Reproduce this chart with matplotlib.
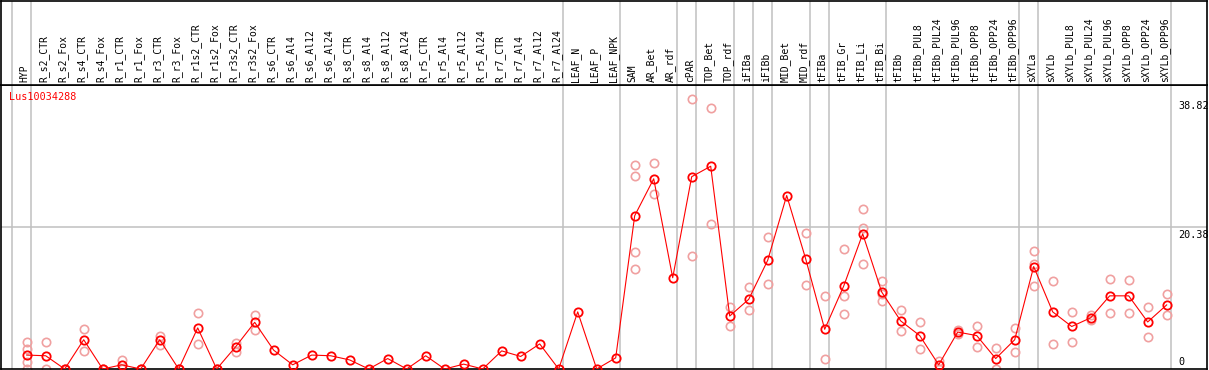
import matplotlib
matplotlib.use("Agg")
import matplotlib.pyplot as plt
from matplotlib.transforms import blended_transform_factory

gene = "Lus10034288"

samples = ["HYP", "R_s2_CTR", "R_s2_Fox", "R_s4_CTR", "R_s4_Fox", "R_r1_CTR", "R_r1_Fox",
           "R_r3_CTR", "R_r3_Fox", "R_r1s2_CTR", "R_r1s2_Fox", "R_r3s2_CTR", "R_r3s2_Fox",
           "R_s6_CTR", "R_s6_Al4", "R_s6_Al12", "R_s6_Al24", "R_s8_CTR", "R_s8_Al4",
           "R_s8_Al12", "R_s8_Al24", "R_r5_CTR", "R_r5_Al4", "R_r5_Al12", "R_r5_Al24",
           "R_r7_CTR", "R_r7_Al4", "R_r7_Al12", "R_r7_Al24", "LEAF_N", "LEAF_P", "LEAF_NPK",
           "SAM", "AR_Bet", "AR_rdf", "cPAR", "TOP_Bet", "TOP_rdf", "iFIBa", "iFIBb",
           "MID_Bet", "MID_rdf", "tFIBa", "tFIB_Gr", "tFIB_Li", "tFIB_Bi", "tFIBb",
           "tFIBb_PUL8", "tFIBb_PUL24", "tFIBb_PUL96", "tFIBb_OPP8", "tFIBb_OPP24",
           "tFIBb_OPP96", "sXYLa", "sXYLb", "sXYLb_PUL8", "sXYLb_PUL24", "sXYLb_PUL96",
           "sXYLb_OPP8", "sXYLb_OPP24", "sXYLb_OPP96"]

means = [2.0, 1.9, 0.0, 4.2, 0.0, 0.6, 0.0,
         4.2, 0.0, 5.9, 0.0, 3.2, 6.7,
         2.7, 0.6, 2.0, 1.9, 1.3, 0.0,
         1.5, 0.0, 1.9, 0.0, 0.7, 0.0,
         2.6, 1.8, 3.6, 0.0, 8.2, 0.0, 1.6,
         22.0, 27.3, 13.1, 27.6, 29.1, 7.6, 10.0, 15.6,
         24.9, 15.8, 5.7, 11.9, 19.4, 11.05, 6.9,
         4.8, 0.6, 5.3, 4.8, 1.5,
         4.2, 14.7, 8.2, 6.1, 7.35, 10.5,
         10.5, 6.75, 9.2]

replicates = [[3.9, 2.9, 1.0, 0.0], [3.9, 0.0], [0.0, 0.0], [5.7, 2.6], [0.0, 0.0], [1.3, 0.0], [0.0, 0.0],
              [4.7, 3.5], [0.0, 0.0], [8.0, 3.6], [0.0, 0.0], [3.7, 2.5], [7.75, 5.6],
              [], [], [], [], [], [],
              [], [], [], [], [], [],
              [], [], [], [], [], [], [],
              [29.3, 27.7, 16.8, 14.4], [29.6, 25.1], [], [38.82, 16.2], [37.5, 20.8], [8.9, 6.1],
              [11.8, 8.5], [18.95, 12.2],
              [], [19.5, 12.1], [10.5, 1.4], [17.2, 10.5, 7.9], [22.9, 20.3, 15.1], [12.7, 10.7, 9.8],
              [8.5, 5.45],
              [6.75, 2.9], [1.2, 0.0], [5.65, 5.0], [6.2, 3.2], [3.0, 0.0],
              [5.9, 2.4], [16.9, 15.1, 11.9], [12.7, 3.6], [8.2, 3.9], [7.7, 7.0], [12.9, 8.0],
              [12.8, 8.0], [8.85, 4.6], [10.7, 7.75]]

group_ends = [-1, 0, 28, 31, 34, 35, 37, 38, 39, 41, 42, 45, 52, 53, 60]
y_max_label = 38.82
y_mid_label = 20.38

W, H = 1209, 370
fig = plt.figure(figsize=(W / 100, H / 100), dpi=100)

px = lambda v: v / W
py = lambda v: v / H
left, right = 1, 1207
top_hdr, sep, bottom = 0.5, 85, 369

ax = fig.add_axes([px(left), py(H - bottom), px(right - left), py(bottom - sep)])
hdr = fig.add_axes([px(left), py(H - sep), px(right - left), py(sep - top_hdr)], sharex=ax)

x0 = 26.7
step = 19.0
xlim = ((left - x0) / step, (right - x0) / step)
ax.set_xlim(*xlim)
ax.set_ylim(0, 2 * y_mid_label)
hdr.set_ylim(0, 1)

for a in (ax, hdr):
    a.set_xticks([])
    a.set_yticks([])
    for s in a.spines.values():
        s.set_color("black")
        s.set_linewidth(1.2)
    for g in group_ends:
        a.axvline(g + 4 / step, color="#c0c0c0", lw=1.1, zorder=0)

ax.axhline(y_mid_label, color="#c0c0c0", lw=1.1, zorder=0)

xs = list(range(len(samples)))
rx, ry = [], []
for i, reps in enumerate(replicates):
    for r in reps:
        rx.append(i)
        ry.append(r)
ax.plot(rx, ry, linestyle="none", marker="o", markersize=6.0, markerfacecolor="none",
        markeredgecolor="#f0a0a0", markeredgewidth=1.2, zorder=2)
ax.plot(xs, means, color="red", lw=0.8, marker="o", markersize=6.0, markerfacecolor="none",
        markeredgecolor="red", markeredgewidth=1.3, zorder=3)

mono = "DejaVu Sans Mono"
for i, name in enumerate(samples):
    hdr.text(i - 0.1, 0.03, name, rotation=90, ha="center", va="bottom",
             fontsize=7, family=mono, color="black")

ax.text((9.3 - left) / (right - left), 0.959, gene, transform=ax.transAxes,
        ha="left", va="center", fontsize=7.3, family=mono, color="red")

tr = blended_transform_factory(ax.transAxes, ax.transData)
xl = (1178 - left) / (right - left)
ax.text(xl, y_max_label - 0.4, f"{y_max_label:.2f}", transform=tr, ha="left", va="top",
        fontsize=7.3, family=mono, color="black")
ax.text(xl, y_mid_label - 0.4, f"{y_mid_label:.2f}", transform=tr, ha="left", va="top",
        fontsize=7.3, family=mono, color="black")
ax.text((1178.5 - left) / (right - left), 0.3, "0", transform=tr, ha="left", va="bottom",
        fontsize=7.3, family=mono, color="black")

fig.savefig("out.png", dpi=100)
